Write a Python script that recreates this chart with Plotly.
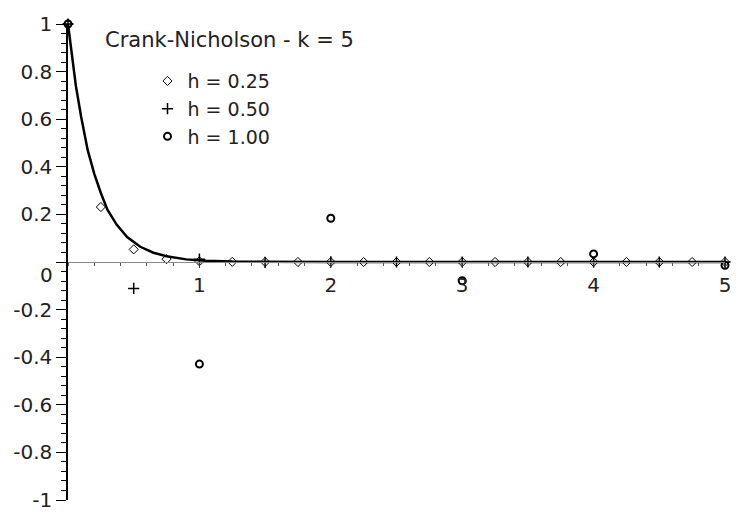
import plotly.graph_objects as go

# ---- data ----
curve_t = [0.0, 0.03, 0.06, 0.1, 0.15, 0.2, 0.25, 0.3, 0.37, 0.45, 0.55, 0.65, 0.75,
           0.9, 1.05, 1.25, 1.5, 2.0, 2.5, 3.0, 3.5, 4.0, 4.5, 5.0]
curve_y = [1.0, 0.86, 0.74, 0.61, 0.47, 0.37, 0.29, 0.22, 0.157, 0.105, 0.064, 0.039, 0.024,
           0.011, 0.005, 0.002, 0.0006, 0.0, 0.0, 0.0, 0.0, 0.0, 0.0, 0.0]

h025_t = [0.0, 0.25, 0.5, 0.75, 1.0, 1.25, 1.5, 1.75, 2.0, 2.25, 2.5, 2.75, 3.0,
          3.25, 3.5, 3.75, 4.0, 4.25, 4.5, 4.75, 5.0]
h025_y = [1.0, 0.231, 0.053, 0.012, 0.003, 0.0007, 0.0002, 0.0, 0.0, 0.0, 0.0, 0.0, 0.0,
          0.0, 0.0, 0.0, 0.0, 0.0, 0.0, 0.0, 0.0]

h050_t = [0.0, 0.5, 1.0, 1.5, 2.0, 2.5, 3.0, 3.5, 4.0, 4.5, 5.0]
h050_y = [1.0, -0.111, 0.012, -0.0014, 0.0002, 0.0, 0.0, 0.0, 0.0, 0.0, 0.0]

h100_t = [0.0, 1.0, 2.0, 3.0, 4.0, 5.0]
h100_y = [1.0, -0.429, 0.184, -0.079, 0.034, -0.014]

series_names = ["h = 0.25", "h = 0.50", "h = 1.00"]
title_text = "Crank-Nicholson - k = 5"

x_tick_vals = [1, 2, 3, 4, 5]
x_tick_text = ["1", "2", "3", "4", "5"]
y_tick_vals = [-1, -0.8, -0.6, -0.4, -0.2, 0, 0.2, 0.4, 0.6, 0.8, 1]
y_tick_text = ["-1", "-0.8", "-0.6", "-0.4", "-0.2", "", "0.2", "0.4", "0.6", "0.8", "1"]

FONT = "DejaVu Sans"
TXT = "#222"

fig = go.Figure()
fig.add_trace(go.Scatter(x=curve_t, y=curve_y, mode="lines",
                         line=dict(color="black", width=2.5),
                         showlegend=False, cliponaxis=False, hoverinfo="skip"))
fig.add_trace(go.Scatter(x=h025_t, y=h025_y, mode="markers", name=series_names[0],
                         marker=dict(symbol="diamond-open", size=7, color="black",
                                     line=dict(width=1, color="black")),
                         cliponaxis=False))
fig.add_trace(go.Scatter(x=h050_t, y=h050_y, mode="markers", name=series_names[1],
                         marker=dict(symbol="cross-thin-open", size=8, color="black",
                                     line=dict(width=1.5, color="black")),
                         cliponaxis=False))
fig.add_trace(go.Scatter(x=h100_t, y=h100_y, mode="markers", name=series_names[2],
                         marker=dict(symbol="circle-open", size=7, color="black",
                                     line=dict(width=2, color="black")),
                         cliponaxis=False))

fig.update_layout(
    width=743, height=524, autosize=False,
    margin=dict(l=68, r=13, t=18, b=12, pad=0),
    paper_bgcolor="white", plot_bgcolor="white",
    font=dict(family=FONT, size=20, color=TXT),
    showlegend=True,
    legend=dict(x=0.121, y=0.92, xanchor="left", yanchor="top",
                bgcolor="rgba(0,0,0,0)", borderwidth=0,
                font=dict(family=FONT, size=19, color=TXT),
                itemwidth=30, tracegroupgap=0),
    xaxis=dict(range=[0, 5], anchor="free", position=0.5,
               showline=True, linecolor="#8a8a8a", linewidth=1,
               showgrid=False, zeroline=False,
               tickmode="array", tickvals=x_tick_vals, ticktext=x_tick_text,
               ticks="outside", ticklen=5, tickwidth=1, tickcolor="#333",
               tickfont=dict(family=FONT, size=20, color=TXT),
               minor=dict(tickmode="linear", tick0=0, dtick=0.2, ticks="outside",
                          ticklen=3, tickwidth=1, tickcolor="#555", showgrid=False)),
    yaxis=dict(range=[-1, 1], anchor="x",
               showline=True, linecolor="black", linewidth=1.5,
               showgrid=False, zeroline=False,
               tickmode="array", tickvals=y_tick_vals, ticktext=y_tick_text,
               ticks="outside", ticklen=10, tickwidth=1, tickcolor="black",
               tickfont=dict(family=FONT, size=20, color=TXT),
               minor=dict(tickmode="linear", tick0=0, dtick=0.04, ticks="outside",
                          ticklen=5, tickwidth=1, tickcolor="black", showgrid=False)),
    annotations=[
        dict(text=title_text, xref="paper", yref="paper", x=0.0529, y=0.9656,
             xanchor="left", yanchor="middle", showarrow=False,
             font=dict(family=FONT, size=21, color=TXT)),
        dict(text="0", xref="paper", yref="y", x=0, y=0, xshift=-13, yshift=-13,
             xanchor="right", yanchor="middle", showarrow=False,
             font=dict(family=FONT, size=20, color=TXT)),
    ],
)

fig.write_html("out.html")
